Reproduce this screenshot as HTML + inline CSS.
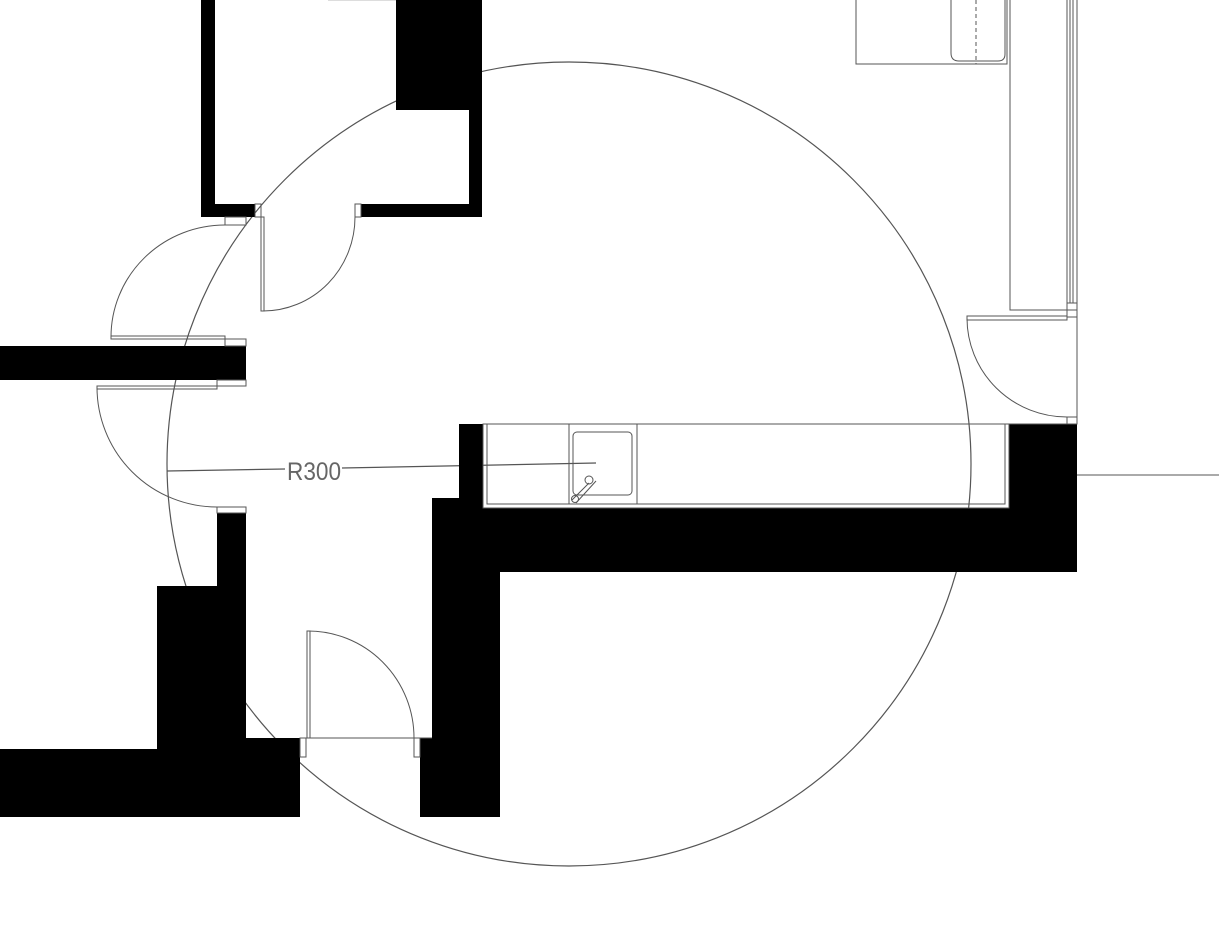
<!DOCTYPE html>
<html><head><style>html,body{margin:0;padding:0;background:#fff}svg{display:block}</style></head>
<body>
<svg width="1219" height="928" viewBox="0 0 1219 928" xmlns="http://www.w3.org/2000/svg">
<rect width="1219" height="928" fill="#fff"/>
<g fill="none" stroke="#555" stroke-width="1.2">
<circle cx="569" cy="464" r="402"/>
<line x1="167" y1="471" x2="285" y2="469"/>
<line x1="342" y1="468" x2="596" y2="463"/>
</g>
<text x="287" y="480" font-family="Liberation Sans Narrow, Liberation Sans, sans-serif" font-size="25" fill="#666" textLength="54" lengthAdjust="spacingAndGlyphs">R300</text>
<g fill="#000">
<rect x="201" y="0" width="14" height="217"/>
<rect x="201" y="204" width="54" height="13"/>
<rect x="361" y="204" width="121" height="13"/>
<rect x="469" y="0" width="13" height="217"/>
<rect x="396" y="0" width="86" height="110"/>
<rect x="0" y="346" width="246" height="34"/>
<rect x="217" y="513" width="29" height="236"/>
<rect x="157" y="586" width="60" height="164"/>
<rect x="0" y="749" width="300" height="68"/>
<rect x="246" y="738" width="54" height="79"/>
<rect x="420" y="738" width="80" height="79"/>
<rect x="432" y="508" width="68" height="230"/>
<rect x="432" y="498" width="51" height="12"/>
<rect x="459" y="424" width="24" height="84"/>
<rect x="483" y="508" width="594" height="64"/>
<rect x="1009" y="424" width="68" height="84"/>
</g>
<g fill="none" stroke="#555" stroke-width="1">
<rect x="255" y="204" width="6" height="13"/>
<rect x="355" y="204" width="6" height="13"/>
<rect x="261" y="217" width="3" height="94"/>
<path d="M355 217 A92 94 0 0 1 263 311"/>
<rect x="225" y="217" width="21" height="8"/>
<rect x="111" y="336" width="114" height="3"/>
<path d="M111 337 A114 112 0 0 1 225 225"/>
<rect x="225" y="339" width="21" height="7"/>
<rect x="217" y="380" width="29" height="6"/>
<rect x="97" y="386" width="120" height="3"/>
<path d="M97 387 A120 120 0 0 0 217 507"/>
<rect x="217" y="507" width="29" height="6"/>
<rect x="300" y="738" width="6" height="19"/>
<rect x="414" y="738" width="6" height="19"/>
<rect x="307" y="631" width="3" height="107"/>
<line x1="300" y1="738" x2="432" y2="738"/>
<path d="M308 631 A106 107 0 0 1 414 738"/>
<rect x="483" y="424" width="526" height="84"/>
<rect x="487" y="424" width="518" height="80"/>
<line x1="569" y1="424" x2="569" y2="504"/>
<line x1="637" y1="424" x2="637" y2="504"/>
<rect x="573" y="432" width="59" height="63" rx="4"/>
<path d="M572 500 L589 483 M576 503 L596 481" />
<circle cx="589" cy="480" r="4"/>
<circle cx="575" cy="499" r="3.5"/>
<rect x="1010" y="-2" width="57" height="312"/>
<line x1="1070" y1="0" x2="1070" y2="303"/>
<line x1="1073" y1="0" x2="1073" y2="303"/>
<line x1="1077" y1="0" x2="1077" y2="424"/>
<rect x="1067" y="303" width="10" height="7"/>
<rect x="1067" y="310" width="10" height="7"/>
<rect x="967" y="316" width="100" height="4"/>
<path d="M967 318 A100 99 0 0 0 1067 417"/>
<rect x="1067" y="417" width="10" height="7"/>
<line x1="1077" y1="475" x2="1219" y2="475"/>
<line x1="1009" y1="424" x2="1077" y2="424"/>
<rect x="856" y="-2" width="151" height="66"/>
<path d="M951 0 L951 53 Q951 61 959 61 L998 61 Q1005 61 1005 54 L1005 0"/>
<line x1="976" y1="0" x2="976" y2="64" stroke-dasharray="4 3"/>
<line x1="328" y1="0" x2="396" y2="0" stroke="#bbb"/>
</g>
</svg>
</body></html>
